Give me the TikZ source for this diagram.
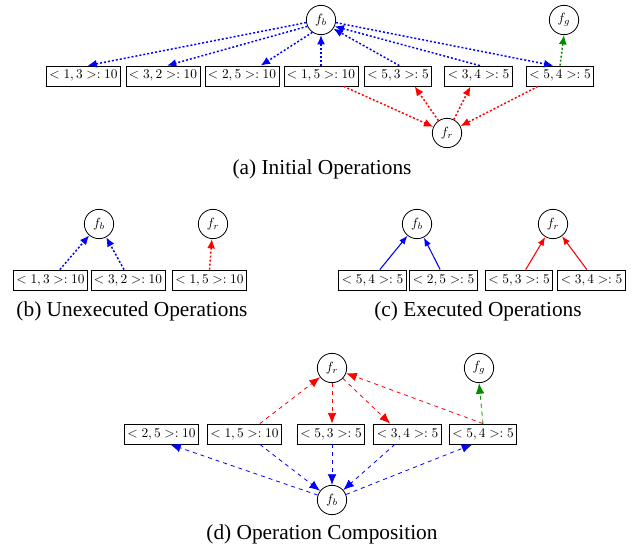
\documentclass[tikz,border=0pt]{standalone}
\usepackage{fontspec}
\setmainfont{Liberation Serif}
\usetikzlibrary{arrows.meta,calc}
\definecolor{dgreen}{rgb}{0,0.55,0}
\begin{document}
\begin{tikzpicture}[x=0.75pt,y=-0.75pt,
  opbox/.style={draw, semithick, inner sep=2.2pt, minimum height=15pt, font=\normalsize},
  fnode/.style={circle, draw, semithick, minimum size=22pt, inner sep=0pt},
  captext/.style={font=\fontsize{16}{18}\selectfont},
  dotA/.style={dash pattern=on 1.5pt off 1.5pt, line width=1.1pt, -{Latex[length=7pt,width=6pt]}},
  solC/.style={thick, -{Latex[length=6.5pt,width=5pt]}},
  dashD/.style={dashed, semithick, -{Latex[length=8pt,width=6.5pt]}}]
\useasboundingbox (0,0) rectangle (641,552);
% ---------- (a)
\node[fnode] (fba) at (321,20) {$f_b$};
\node[fnode] (fga) at (564,20) {$f_g$};
\node[fnode] (fra) at (447,133) {$f_r$};
\node[opbox] (a1) at (83.5,76) {$<1,3>: 10$};
\node[opbox] (a2) at (163,76) {$<3,2>: 10$};
\node[opbox] (a3) at (242,76) {$<2,5>: 10$};
\node[opbox] (a4) at (321,76) {$<1,5>: 10$};
\node[opbox] (a5) at (398,76) {$<5,3>: 5$};
\node[opbox] (a6) at (478.5,76) {$<3,4>: 5$};
\node[opbox] (a7) at (560,76) {$<5,4>: 5$};
\draw[dotA, blue] (fba.190) -- ([xshift=3pt]a1.north);
\draw[dotA, blue] (fba.205) -- ([xshift=3pt]a2.north);
\draw[dotA, blue] (fba.235) -- ([xshift=14pt]a3.north);
\draw[dotA, blue] (a4.north) -- (fba.south);
\draw[dotA, blue] ([xshift=1pt]a5.north) -- (fba.-35);
\draw[dotA, blue] ([xshift=1pt]a6.north) -- (fba.-25);
\draw[dotA, blue] (fba.-10) -- ([xshift=-5pt]a7.north);
\draw[dotA, dgreen] (a7.north) -- (fga.south);
\draw[dotA, red] ([xshift=17pt]a4.south) -- (fra);
\draw[dotA, red] (fra) -- ([xshift=12.5pt]a5.south);
\draw[dotA, red] (fra) -- ([xshift=-6pt]a6.south);
\draw[dotA, red] ([xshift=-16.5pt]a7.south) -- (fra);
\node[captext] (capa) at (322,169) {(a) Initial Operations};
% ---------- (b)
\node[fnode] (fbb) at (99,224) {$f_b$};
\node[fnode] (frb) at (213,224) {$f_r$};
\node[opbox] (b1) at (50.5,280) {$<1,3>: 10$};
\node[opbox] (b2) at (128,280) {$<3,2>: 10$};
\node[opbox] (b3) at (209.5,280) {$<1,5>: 10$};
\draw[dotA, blue] ([xshift=7pt]b1.north) -- (fbb);
\draw[dotA, blue] ([xshift=-3pt]b2.north) -- (fbb);
\draw[dotA, red] (b3.north) -- (frb);
\node[captext] (capb) at (132,311) {(b) Unexecuted Operations};
% ---------- (c)
\node[fnode] (fbc) at (417,224) {$f_b$};
\node[fnode] (frc) at (553,224) {$f_r$};
\node[opbox] (c1) at (372.5,280) {$<5,4>: 5$};
\node[opbox] (c2) at (443.5,280) {$<2,5>: 5$};
\node[opbox] (c3) at (519,280) {$<5,3>: 5$};
\node[opbox] (c4) at (591.5,280) {$<3,4>: 5$};
\draw[solC, blue] ([xshift=5.5pt]c1.north) -- (fbc);
\draw[solC, blue] ([xshift=-2.5pt]c2.north) -- (fbc);
\draw[solC, red] ([xshift=5pt]c3.north) -- (frc);
\draw[solC, red] ([xshift=-3.5pt]c4.north) -- (frc);
\node[captext] (capc) at (478,311) {(c) Executed Operations};
% ---------- (d)
\node[fnode] (frd) at (332,368) {$f_r$};
\node[fnode] (fgd) at (479,368) {$f_g$};
\node[fnode] (fbd) at (332,500) {$f_b$};
\node[opbox] (d1) at (161.5,434) {$<2,5>: 10$};
\node[opbox] (d2) at (244.5,434) {$<1,5>: 10$};
\node[opbox] (d3) at (331,434) {$<5,3>: 5$};
\node[opbox] (d4) at (407.5,434) {$<3,4>: 5$};
\node[opbox] (d5) at (483,434) {$<5,4>: 5$};
\draw[dashD, red] ([xshift=11.5pt]d2.north) -- (frd);
\draw[dashD, red] (frd) -- (frd |- d3.north);
\draw[dashD, red] (frd) -- ([xshift=-13pt]d4.north);
\draw[dashD, red] (d5.north) -- (frd);
\draw[dashD, dgreen] (d5.north) -- (fgd.south);
\draw[dashD, blue] (fbd) -- ([xshift=6.5pt]d1.south);
\draw[dashD, blue] ([xshift=11.5pt]d2.south) -- (fbd);
\draw[dashD, blue] (fbd |- d3.south) -- (fbd);
\draw[dashD, blue] ([xshift=-9.5pt]d4.south) -- (fbd);
\draw[dashD, blue] (fbd) -- ([xshift=-8pt]d5.south);
\node[captext] (capd) at (322,534) {(d) Operation Composition};
\end{tikzpicture}
\end{document}
